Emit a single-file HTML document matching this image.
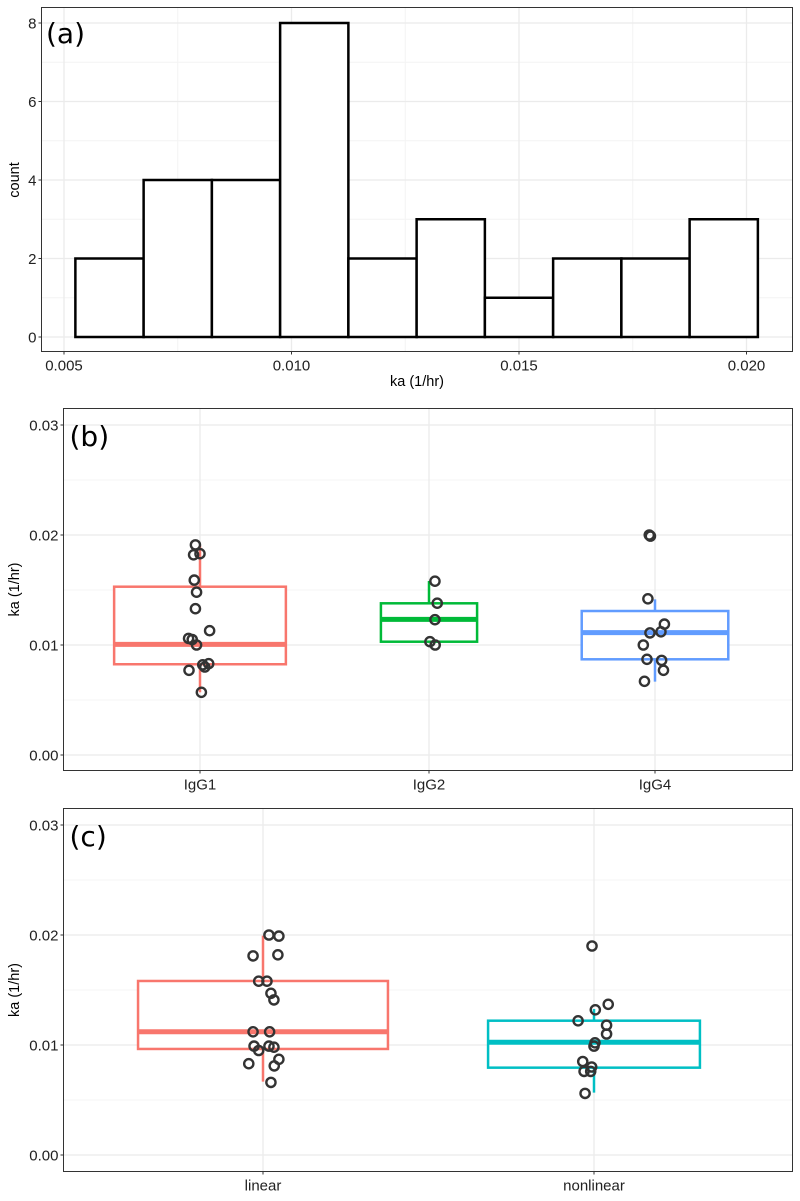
<!DOCTYPE html>
<html><head><meta charset="utf-8"><style>
body{margin:0;background:#fff;}
svg{display:block;font-family:"Liberation Sans",sans-serif;}
</style></head><body>
<svg id="c" width="800" height="1201" viewBox="0 0 800 1201" xmlns="http://www.w3.org/2000/svg"></svg>
<script>
// Panel (a) histogram data
const histEdgesStart = 0.00525;
const histBinWidth = 0.0015;
const histCounts = [2,4,4,8,2,3,1,2,2,3];
const histXTicks = [0.005,0.010,0.015,0.020];
const histXTickLabels = ["0.005","0.010","0.015","0.020"];
const histYTicks = [0,2,4,6,8];

// Panel (b)
const bCats = ["IgG1","IgG2","IgG4"];
const bQ1 = [0.00825,0.0103,0.0087];
const bMed = [0.01006,0.01233,0.01112];
const bQ3 = [0.0153,0.01379,0.01309];
const bLo = [0.0057,0.0103,0.00667];
const bHi = [0.01903,0.01582,0.01415];
const bWidth = [0.75,0.42,0.64];
const bColors = ["#F8766D","#00BA38","#619CFF"];
const bPtsG1 = [0.0191,0.0182,0.0183,0.0159,0.0148,0.0133,0.0113,0.0106,0.0105,0.0100,0.0082,0.0080,0.0083,0.0077,0.0057];
const bJitG1 = [-0.02,-0.028,0,-0.025,-0.015,-0.02,0.042,-0.05,-0.034,-0.015,0.012,0.021,0.038,-0.048,0.006];
const bPtsG2 = [0.0158,0.0138,0.0123,0.0103,0.0100];
const bJitG2 = [0.026,0.036,0.026,0.004,0.027];
const bPtsG4 = [0.0200,0.0199,0.0142,0.0119,0.0111,0.0112,0.0100,0.0087,0.0086,0.0077,0.0067];
const bJitG4 = [-0.025,-0.02,-0.031,0.041,-0.022,0.026,-0.051,-0.035,0.029,0.037,-0.046];

// Panel (c)
const cCats = ["linear","nonlinear"];
const cQ1 = [0.00964,0.00794];
const cMed = [0.01121,0.01025];
const cQ3 = [0.01582,0.01221];
const cLo = [0.00667,0.00567];
const cHi = [0.01994,0.01327];
const cColors = ["#F8766D","#00BFC4"];
const cPtsLin = [0.0200,0.0199,0.0181,0.0182,0.0158,0.0158,0.0147,0.0141,0.0112,0.0112,0.0099,0.0095,0.0099,0.0098,0.0087,0.0081,0.0083,0.0066];
const cJitLin = [0.018,0.048,-0.03,0.045,-0.013,0.012,0.024,0.033,-0.03,0.02,-0.027,-0.013,0.018,0.033,0.048,0.034,-0.043,0.024];
const cPtsNon = [0.0190,0.0137,0.0132,0.0122,0.0118,0.0110,0.0102,0.0099,0.0085,0.0080,0.0076,0.0076,0.0056];
const cJitNon = [-0.006,0.043,0.004,-0.048,0.038,0.038,0.003,0,-0.034,-0.007,-0.03,-0.01,-0.027];
const yTicksBox = [0,0.01,0.02,0.03];
const yTickLabelsBox = ["0.00","0.01","0.02","0.03"];

const NS="http://www.w3.org/2000/svg";
const svg=document.getElementById('c');
function mk(tag,attrs,parent,text){const e=document.createElementNS(NS,tag);for(const k in attrs)e.setAttribute(k,attrs[k]);if(text!==undefined)e.textContent=text;(parent||svg).appendChild(e);return e;}
const TICKFS=15, TITLEFS=14.5, LABFONT='"DejaVu Sans",sans-serif';

// ---------- Panel A ----------
(function(){
  const L=41.5,T=7.5,R=792.5,B=351.5;
  const x=v=>64+(v-0.005)*45500;
  const y=c=>337-c*39.25;
  const g=mk('g',{});
  
  
  [0.0075,0.0125,0.0175].forEach(v=>mk('line',{x1:x(v),x2:x(v),y1:T,y2:B,stroke:'#f4f4f4','stroke-width':1},g));
  [1,3,5,7].forEach(v=>mk('line',{x1:L,x2:R,y1:y(v),y2:y(v),stroke:'#f4f4f4','stroke-width':1},g));
  histXTicks.forEach(v=>mk('line',{x1:x(v),x2:x(v),y1:T,y2:B,stroke:'#ebebeb','stroke-width':1.3},g));
  histYTicks.forEach(v=>mk('line',{x1:L,x2:R,y1:y(v),y2:y(v),stroke:'#ebebeb','stroke-width':1.3},g));
  histCounts.forEach((c,i)=>{
    const x0=x(histEdgesStart+i*histBinWidth),x1=x(histEdgesStart+(i+1)*histBinWidth);
    const r=mk('rect',{x:x0,y:y(c),width:x1-x0,height:y(0)-y(c),fill:'#fff',stroke:'#000','stroke-width':2.5},g);
    
    
  });
  mk('rect',{x:L,y:T,width:R-L,height:B-T,fill:'none',stroke:'#333','stroke-width':1},g);
  histYTicks.forEach(v=>{mk('line',{x1:L-3,x2:L,y1:y(v),y2:y(v),stroke:'#333'},g);
    const t=mk('text',{x:L-5,y:y(v)+5.5,'text-anchor':'end','font-size':TICKFS,fill:'#222'},g,String(v));
    });
  histXTicks.forEach((v,i)=>{mk('line',{x1:x(v),x2:x(v),y1:B,y2:B+3,stroke:'#333'},g);
    const t=mk('text',{x:x(v),y:B+19,'text-anchor':'middle','font-size':TICKFS,fill:'#222'},g,histXTickLabels[i]);
    });
  const xt=mk('text',{x:417,y:386,'text-anchor':'middle','font-size':TITLEFS,fill:'#000'},g,'ka (1/hr)');
  
  const yt=mk('text',{x:19,y:180,'text-anchor':'middle','font-size':TITLEFS,transform:'rotate(-90 19 180)'},g,'count');
  
  const pl=mk('text',{x:46,y:43,'font-size':28,'font-family':LABFONT,fill:'#000'},g,'(a)');
  
})();

// ---------- Box panels ----------
function boxPanel(o){
  const {L,T,R,B,y0,cx,unit,cats,q1,med,q3,lo,hi,widths,colors,pts,jit,name,label,tickY}=o;
  const y=v=>y0-v*11000;
  const x=(i,off)=>cx[i]+off*unit;
  const g=mk('g',{});
  
  
  [0.005,0.015,0.025].forEach(v=>mk('line',{x1:L,x2:R,y1:y(v),y2:y(v),stroke:'#f4f4f4','stroke-width':1},g));
  yTicksBox.forEach(v=>mk('line',{x1:L,x2:R,y1:y(v),y2:y(v),stroke:'#ebebeb','stroke-width':1.3},g));
  cats.forEach((c,i)=>mk('line',{x1:cx[i],x2:cx[i],y1:T,y2:B,stroke:'#ebebeb','stroke-width':1.3},g));
  cats.forEach((c,i)=>{
    const hw=widths[i]*unit/2, col=colors[i];
    const bg=mk('g',{},g);
    
    
    mk('line',{x1:cx[i],x2:cx[i],y1:y(hi[i]),y2:y(q3[i]),stroke:col,'stroke-width':2.5},bg);
    mk('line',{x1:cx[i],x2:cx[i],y1:y(q1[i]),y2:y(lo[i]),stroke:col,'stroke-width':2.5},bg);
    mk('rect',{x:cx[i]-hw,y:y(q3[i]),width:2*hw,height:y(q1[i])-y(q3[i]),fill:'#fff',stroke:col,'stroke-width':2.5},bg);
    mk('line',{x1:cx[i]-hw,x2:cx[i]+hw,y1:y(med[i]),y2:y(med[i]),stroke:col,'stroke-width':5},bg);
  });
  cats.forEach((c,i)=>{
    pts[i].forEach((v,j)=>{
      const p=mk('circle',{cx:x(i,jit[i][j]),cy:y(v),r:4.6,fill:'none',stroke:'#333','stroke-width':2.4},g);
      
      
    });
  });
  mk('rect',{x:L,y:T,width:R-L,height:B-T,fill:'none',stroke:'#333','stroke-width':1},g);
  yTicksBox.forEach((v,i)=>{mk('line',{x1:L-3,x2:L,y1:y(v),y2:y(v),stroke:'#333'},g);
    const t=mk('text',{x:L-5,y:y(v)+5.5,'text-anchor':'end','font-size':TICKFS,fill:'#222'},g,yTickLabelsBox[i]);
    });
  cats.forEach((c,i)=>{mk('line',{x1:cx[i],x2:cx[i],y1:B,y2:B+3,stroke:'#333'},g);
    const t=mk('text',{x:cx[i],y:B+19,'text-anchor':'middle','font-size':TICKFS,fill:'#222'},g,c);
    });
  const ym=(T+B)/2;
  const yt=mk('text',{x:19,y:ym,'text-anchor':'middle','font-size':TITLEFS,transform:'rotate(-90 19 '+ym+')'},g,'ka (1/hr)');
  
  const pl=mk('text',{x:L+6,y:tickY,'font-size':28,'font-family':LABFONT,fill:'#000'},g,label);
  
}
boxPanel({L:63.5,T:408.5,R:792.5,B:770.5,y0:755,cx:[200,429,655],unit:229,cats:bCats,q1:bQ1,med:bMed,q3:bQ3,lo:bLo,hi:bHi,widths:bWidth,colors:bColors,pts:[bPtsG1,bPtsG2,bPtsG4],jit:[bJitG1,bJitG2,bJitG4],name:'boxplot-panel-b',label:'(b)',tickY:446});
boxPanel({L:63.5,T:808.5,R:792.5,B:1171.5,y0:1155,cx:[263,594],unit:331,cats:cCats,q1:cQ1,med:cMed,q3:cQ3,lo:cLo,hi:cHi,widths:[0.755,0.64],colors:cColors,pts:[cPtsLin,cPtsNon],jit:[cJitLin,cJitNon],name:'boxplot-panel-c',label:'(c)',tickY:846});
</script>
</body></html>
